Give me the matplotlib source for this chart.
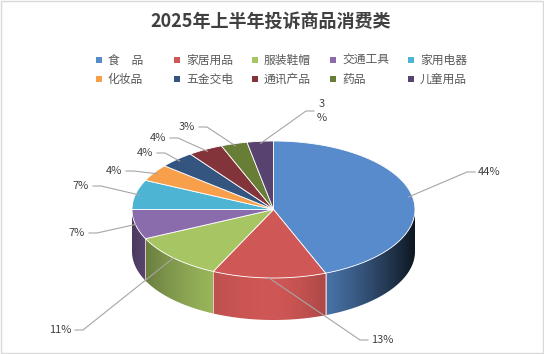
import matplotlib
matplotlib.use('Agg')
import matplotlib.pyplot as plt
import numpy as np
from matplotlib.patches import Polygon, Rectangle

plt.rcParams['font.family'] = ['Noto Sans CJK SC', 'DejaVu Sans']

# 数据
title = '2025年上半年投诉商品消费类'
categories = ['食　品', '家居用品', '服装鞋帽', '交通工具', '家用电器',
              '化妆品', '五金交电', '通讯产品', '药品', '儿童用品']
shares = [44, 13, 11, 7, 7, 4, 4, 4, 3, 3]
labels = ['44%', '13%', '11%', '7%', '7%', '4%', '4%', '4%', '3%', '3\n%']
colors = ['#588bcb', '#cf5755', '#a7c663', '#8a6cad', '#4db5d3',
          '#f89f4b', '#33557f', '#83333a', '#687d35', '#574270']

# 版式 (像素坐标)
W, H = 544, 354
cx, cy, rx, ry, depth = 273.5, 209.5, 141.5, 68.5, 42
# 标签: (拐点x, y, 方向)
label_layout = [(467, 172, 'R'), (360, 340, 'R'), (83, 330, 'L'), (97, 233, 'L'),
                (101, 186, 'L'), (134, 171, 'L'), (165, 153, 'L'), (178, 138, 'L'),
                (207, 127, 'L'), (306, 111, 'R')]

fig = plt.figure(figsize=(W / 100, H / 100), dpi=100)
ax = fig.add_axes([0, 0, 1, 1])
ax.set_xlim(0, W)
ax.set_ylim(H, 0)
ax.axis('off')


def pt(phi, r=1.0, dz=0.0):
    # phi: 从12点方向顺时针 (度)
    a = np.radians(phi)
    return cx + r * rx * np.sin(a), cy - r * ry * np.cos(a) + dz


def shade(c, u):
    rgb = np.array(matplotlib.colors.to_rgb(c))
    u = np.asarray(u)[:, None]
    f = np.where(u >= 0, 1 - 0.85 * np.abs(u) ** 1.6, 1 - 0.45 * u ** 2)
    return np.clip(rgb[None, :] * f, 0, 1)


total = float(sum(shares))
bounds = np.concatenate([[0], np.cumsum(shares)]) / total * 360

# 侧面 (渐变)
for i in range(len(shares)):
    a0, a1 = max(bounds[i], 90), min(bounds[i + 1], 270)
    if a1 <= a0:
        continue
    ts = np.linspace(a0, a1, 100)
    xs, ys = pt(ts)
    verts = list(zip(xs, ys)) + list(zip(xs[::-1], ys[::-1] + depth))
    wall = Polygon(verts, closed=True, facecolor='none', edgecolor='none')
    ax.add_patch(wall)
    x_lo, x_hi = min(xs.min(), xs.max()), max(xs.min(), xs.max())
    gx = np.linspace(x_lo, x_hi, 200)
    grad = shade(colors[i], (gx - cx) / rx)[None, :, :]
    im = ax.imshow(grad, extent=[x_lo, x_hi, ys.max() + depth + 1, ys.min() - 1],
                   aspect='auto', interpolation='bilinear', zorder=1)
    im.set_clip_path(wall)
# 侧面分界线
for b in bounds:
    if 90 < b < 270:
        x, y = pt(b)
        ax.plot([x, x], [y, y + depth], color='#f0d0d0', lw=0.6, zorder=2)
ax.set_xlim(0, W)
ax.set_ylim(H, 0)

# 顶面
for i in range(len(shares)):
    ts = np.linspace(bounds[i], bounds[i + 1], 80)
    xs, ys = pt(ts)
    verts = [(cx, cy)] + list(zip(xs, ys))
    ax.add_patch(Polygon(verts, closed=True, facecolor=colors[i],
                         edgecolor='white', lw=0.6, zorder=3))

# 数据标签
for i, (ex, ly, side) in enumerate(label_layout):
    mid = 0.5 * (bounds[i] + bounds[i + 1])
    ax_, ay_ = pt(mid, 0.97 if mid < 90 or mid > 270 else 1.0)
    if side == 'L':
        hx, tx, ha = ex - 8, ex - 12, 'right'
    else:
        hx, tx, ha = ex + 8, ex + 11, 'left'
    ax.plot([ax_, ex, hx], [ay_, ly, ly], color='#a6a6a6', lw=0.8, zorder=4)
    ax.text(tx, ly, labels[i], ha=ha, va='center', fontsize=8, color='#404040',
            linespacing=1.5, multialignment='center', zorder=5)

# 图例
for i, name in enumerate(categories):
    row, col = divmod(i, 5)
    mx, my = 99 + col * 78, 60 + row * 19
    ax.add_patch(Rectangle((mx - 3, my - 3), 6, 6, facecolor=colors[i], edgecolor='none'))
    ax.text(mx + 9, my, name, ha='left', va='center', fontsize=8.5, color='#595959')

ax.text(271, 21, title, ha='center', va='center', fontsize=13, fontweight='bold',
        color='#404040')

ax.add_patch(Rectangle((0.5, 0.5), W - 1.5, H - 1.5, fill=False, edgecolor='#d9d9d9', lw=1))

fig.savefig('out.png', dpi=100)
